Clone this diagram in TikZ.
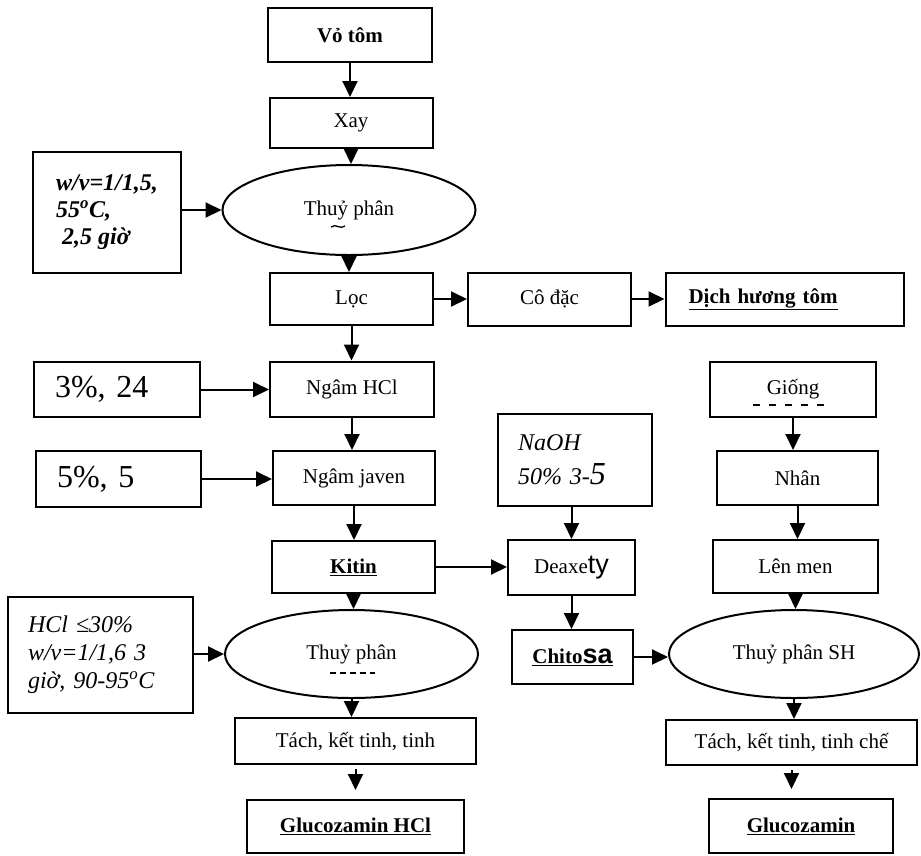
\documentclass[tikz,border=0pt]{standalone}
\usepackage{fontspec}
\setmainfont{Liberation Serif}
\setsansfont{Liberation Sans}
\usetikzlibrary{arrows.meta,shapes.geometric}
\begin{document}
\begin{tikzpicture}[x=1pt,y=-1pt,
  box/.style={draw,line width=2pt,rectangle,inner sep=0pt,align=center,font=\fontsize{21}{25}\selectfont},
  oval/.style={draw,line width=2pt,ellipse,inner sep=0pt,font=\fontsize{21}{25}\selectfont},
  arr/.style={line width=2pt,-{Triangle[length=16pt,width=15pt]}},
  speck/.style={line width=1.3pt}
]
\useasboundingbox (0,0) rectangle (921,855);
\fill[white] (0,0) rectangle (921,855);

% main left column
\node[box,minimum width=164pt,minimum height=54pt] (vo) at (350,35) {\textbf{Vỏ tôm}};
\node[box,minimum width=163pt,minimum height=50pt] (xay) at (351,123) {Xay};
\node[oval,minimum width=253pt,minimum height=90pt] (tp1) at (349,210) {Thuỷ phân};
\node[box,minimum width=148pt,minimum height=121pt,align=left,font=\bfseries\itshape\fontsize{24}{27}\selectfont] (p1) at (107,212.5)
  {w/v=1/1,5,\\55\textsuperscript{o}C,\\\hspace*{6pt}2,5 giờ};
\node[box,minimum width=163pt,minimum height=52pt] (loc) at (351.5,299) {Lọc};
\node[box,minimum width=163pt,minimum height=53pt] (co) at (549.5,299) {Cô đặc};
\node[box,minimum width=238pt,minimum height=53pt,text width=192pt,inner xsep=23pt,align=left] (dich) at (784.5,299.5) {\textbf{\underline{Dịch hương tôm}}};
\node[box,minimum width=164pt,minimum height=55pt] (hcl) at (352,389) {Ngâm HCl};
\node[box,minimum width=166pt,minimum height=55pt,text width=124pt,inner xsep=21pt,align=left,font=\fontsize{32}{34}\selectfont] (p2) at (117,389.5) {3\%, 24};
\node[box,minimum width=162pt,minimum height=54pt] (jav) at (354,478) {Ngâm javen};
\node[box,minimum width=165pt,minimum height=56pt,text width=123pt,inner xsep=21pt,align=left,font=\fontsize{32}{34}\selectfont] (p3) at (118.5,479) {5\%, 5};
\node[box,minimum width=163pt,minimum height=52pt] (kitin) at (353.5,567) {\textbf{\underline{Kitin}}};
\node[oval,minimum width=253pt,minimum height=88pt] (tp2) at (351.5,654) {Thuỷ phân};
\node[box,minimum width=185pt,minimum height=116pt,text width=145pt,inner xsep=20pt,align=left,font=\itshape\fontsize{24}{28}\selectfont] (p4) at (100.5,655)
  {HCl ≤30\%\\w/v=1/1,6 3\\giờ, 90-95\textsuperscript{o}C};
\node[box,minimum width=241pt,minimum height=46pt] (tach1) at (355.5,741) {Tách, kết tinh, tinh};
\node[box,minimum width=217pt,minimum height=53pt] (gluhcl) at (355.5,826.5) {\textbf{\underline{Glucozamin HCl}}};

% middle column
\node[box,minimum width=154pt,minimum height=92pt,text width=114pt,inner xsep=20pt,align=left,font=\itshape\fontsize{24}{34}\selectfont] (naoh) at (575,460)
  {NaOH\\50\% 3-{\fontsize{32}{34}\selectfont 5}};
\node[box,minimum width=127pt,minimum height=55pt] (deax) at (571.5,567.5) {Deaxe{\sffamily\fontsize{27}{27}\selectfont ty}};
\node[box,minimum width=121pt,minimum height=54pt] (chit) at (572.5,657) {\textbf{\underline{Chito{\sffamily\fontsize{27}{27}\selectfont sa}}}};

% right column
\node[box,minimum width=166pt,minimum height=55pt] (gio) at (793,389.5) {Giống};
\node[box,minimum width=161pt,minimum height=54pt] (nhan) at (797.5,478) {Nhân};
\node[box,minimum width=165pt,minimum height=53pt] (len) at (795.5,566.5) {Lên men};
\node[oval,minimum width=250pt,minimum height=88pt] (tpsh) at (794,654) {Thuỷ phân SH};
\node[box,minimum width=251pt,minimum height=45pt] (tach2) at (791.5,742.5) {Tách, kết tinh, tinh chế};
\node[box,minimum width=184pt,minimum height=54pt] (glu) at (801,826) {\textbf{\underline{Glucozamin}}};

% connectors
\draw[arr] (vo.south) -- (vo.south |- xay.north);
\draw[arr] (xay.south) -- (xay.south |- tp1.north);
\draw[arr] (p1.east |- tp1.west) -- (tp1.west);
\draw[arr] (tp1.south) -- (tp1.south |- loc.north);
\draw[arr] (loc.east) -- (loc.east -| co.west);
\draw[arr] (co.east) -- (co.east -| dich.west);
\draw[arr] (loc.south) -- (loc.south |- hcl.north);
\draw[arr] (p2.east) -- (p2.east -| hcl.west);
\draw[arr] (hcl.south) -- (hcl.south |- jav.north);
\draw[arr] (p3.east) -- (p3.east -| jav.west);
\draw[arr] (jav.south) -- (jav.south |- kitin.north);
\draw[arr] (kitin.east) -- (kitin.east -| deax.west);
\draw[arr] (deax.north |- naoh.south) -- (deax.north);
\draw[arr] (deax.south) -- (deax.south |- chit.north);
\draw[arr] (chit.east) -- (chit.east -| tpsh.west);
\draw[arr] (kitin.south) -- (kitin.south |- tp2.north);
\draw[arr] (p4.east |- tp2.west) -- (tp2.west);
\draw[arr] (tp2.south) -- (tp2.south |- tach1.north);
\draw[arr,shorten <=4pt,shorten >=9pt] (tach1.south) -- (tach1.south |- gluhcl.north);
\draw[arr] (gio.south) -- (gio.south |- nhan.north);
\draw[arr] (nhan.south) -- (nhan.south |- len.north);
\draw[arr] (len.south) -- (len.south |- tpsh.north);
\draw[arr] (tpsh.south) -- (tpsh.south |- tach2.north);
\draw[arr,shorten <=4pt,shorten >=9pt] (tach2.south) -- (tach2.south |- glu.north);

% small marks seen in the scan
\draw[speck,dash pattern=on 7pt off 9pt] (753,405) -- (833,405);
\draw[speck,dash pattern=on 6pt off 4pt] (330,673) -- (375,673);
\draw[speck] (331,227) .. controls (336,223) and (340,230) .. (345,226);
\end{tikzpicture}
\end{document}
